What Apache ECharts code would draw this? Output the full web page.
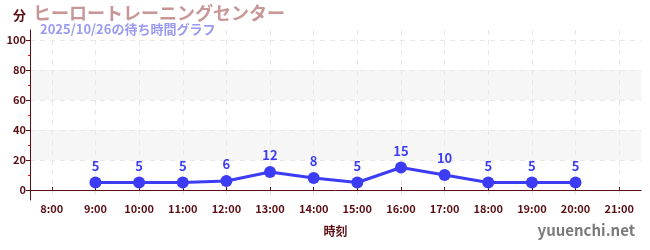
<!DOCTYPE html>
<html><head><meta charset="utf-8">
<script src="https://cdn.jsdelivr.net/npm/echarts@6/dist/echarts.min.js"></script>
<style>html,body{margin:0;padding:0;background:#fff}#c{width:650px;height:250px}</style>
</head><body><div id="c"></div>
<script>
const categories = ['8:00','9:00','10:00','11:00','12:00','13:00','14:00','15:00','16:00','17:00','18:00','19:00','20:00','21:00'];
const waitTimes = ['-',5,5,5,6,12,8,5,15,10,5,5,5,'-'];
const yMajorTicks = [0,20,40,60,80,100];
const yMinorTicks = [10,30,50,70,90];
const titleText = 'ヒーロートレーニングセンター';
const subtitleText = '2025/10/26の待ち時間グラフ';
const yName = '分';
const xName = '時刻';
const watermark = 'yuuenchi.net';

const axisColor = '#5a0f14';
const font = '"Noto Sans CJK JP", "Noto Sans", sans-serif';
const chart = echarts.init(document.getElementById('c'), null, {renderer: 'canvas'});
chart.setOption({
  animation: false,
  textStyle: {fontFamily: font},
  title: [
    {text: titleText, left: 33, top: 4, padding: 0, textStyle: {fontSize: 18, fontWeight: 'bold', color: '#c89696', fontFamily: font}},
    {text: subtitleText, left: 40, top: 23, padding: 0, textStyle: {fontSize: 13, fontWeight: 'bold', color: '#9a9af2', fontFamily: font}}
  ],
  graphic: [
    {type: 'text', left: 13, top: 9, style: {text: yName, fontSize: 13, fontWeight: 'bold', fill: axisColor, fontFamily: font}},
    {type: 'text', right: 15, top: 223, style: {text: watermark, fontSize: 15, fontWeight: 'bold', fill: '#7a7a7a', fontFamily: font}}
  ],
  grid: {left: 30, right: 9, top: 30, bottom: 50, containLabel: false},
  xAxis: {
    type: 'category',
    data: categories,
    boundaryGap: true,
    name: xName,
    nameLocation: 'middle',
    nameGap: 25,
    nameTextStyle: {fontSize: 12, fontWeight: 'bold', color: axisColor, fontFamily: font},
    axisLine: {lineStyle: {color: axisColor, width: 1}},
    axisTick: {show: true, alignWithLabel: true, inside: true, length: 3, lineStyle: {color: axisColor}},
    axisLabel: {fontSize: 11, fontWeight: 'bold', color: axisColor, margin: 3, interval: 0, fontFamily: font},
    splitLine: {show: true, alignWithLabel: true, lineStyle: {color: '#e8e8e8', type: [5, 5]}}
  },
  yAxis: [
    {
      type: 'value',
      position: 'left',
      min: -20/3,
      max: 320/3,
      axisLine: {show: true, lineStyle: {color: axisColor, width: 1}},
      axisTick: {show: true, length: 4, customValues: yMajorTicks, lineStyle: {color: axisColor}},
      axisLabel: {fontSize: 11, fontWeight: 'bold', color: axisColor, margin: 4, customValues: yMajorTicks, fontFamily: font},
      splitLine: {show: true, lineStyle: {color: '#e8e8e8', type: [5, 5]}},
      splitArea: {show: true, areaStyle: {color: ['rgba(255,255,255,0)', '#f6f6f6']}}
    },
    {
      type: 'value',
      position: 'left',
      min: -20/3,
      max: 320/3,
      axisLine: {show: false},
      axisTick: {show: true, length: 2, customValues: yMinorTicks, lineStyle: {color: '#e01010'}},
      axisLabel: {show: false},
      splitLine: {show: false},
      splitArea: {show: false}
    }
  ],
  series: [{
    type: 'line',
    data: waitTimes,
    yAxisIndex: 0,
    symbol: 'circle',
    symbolSize: 12,
    lineStyle: {color: '#3c3cf5', width: 3},
    itemStyle: {color: '#3c3cf5'},
    label: {show: true, position: 'top', distance: 4, fontSize: 13, fontWeight: 'bold', color: '#3c3cf5', fontFamily: font},
    z: 5
  }]
});
</script></body></html>
